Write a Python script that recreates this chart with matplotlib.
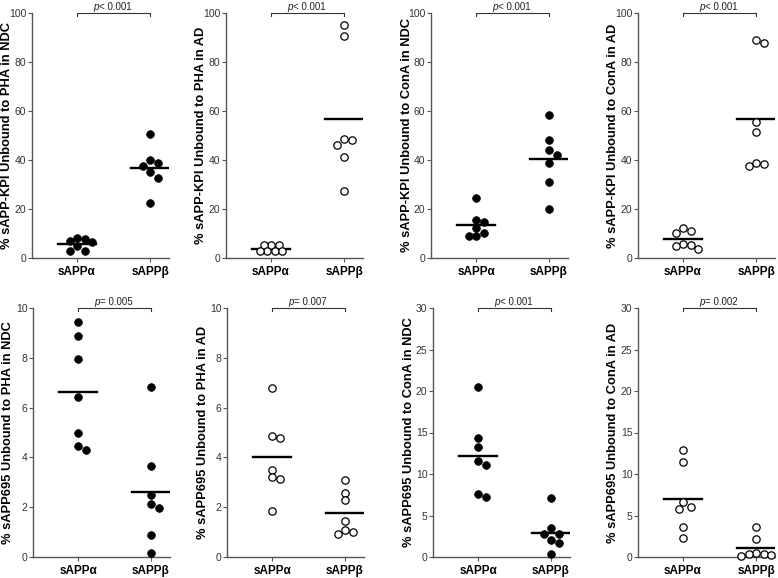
import numpy as np
import matplotlib
matplotlib.use("Agg")
import matplotlib.pyplot as plt

plt.rcParams['font.family'] = ['Liberation Sans', 'DejaVu Sans']

groups = ['sAPPα', 'sAPPβ']

# top row: sAPP-KPI (% unbound)
kpi_pha_ndc_a = [8.0, 7.6, 7.0, 6.7, 5.0, 2.8, 2.8]
kpi_pha_ndc_b = [50.8, 40.0, 38.7, 37.7, 35.0, 32.7, 22.4]
kpi_pha_ad_a = [5.3, 5.3, 5.3, 2.7, 2.7, 2.7, 2.7]
kpi_pha_ad_b = [95.3, 90.5, 48.7, 48.2, 46.2, 41.2, 27.2]
kpi_cona_ndc_a = [24.5, 15.4, 14.7, 12.2, 10.2, 9.0, 9.0]
kpi_cona_ndc_b = [58.3, 48.0, 44.2, 42.0, 38.6, 31.2, 20.1]
kpi_cona_ad_a = [12.2, 11.1, 10.2, 5.7, 5.4, 4.7, 3.7]
kpi_cona_ad_b = [88.9, 87.6, 55.5, 51.6, 38.5, 37.4, 38.8]

# bottom row: sAPP695 (% unbound)
s695_pha_ndc_a = [9.44, 8.87, 7.97, 6.41, 4.96, 4.44, 4.29]
s695_pha_ndc_b = [6.84, 3.67, 2.51, 2.11, 1.97, 0.88, 0.17]
s695_pha_ad_a = [6.77, 4.84, 4.76, 3.51, 3.20, 3.15, 1.84]
s695_pha_ad_b = [3.08, 2.59, 2.29, 1.45, 1.08, 1.00, 0.93]
s695_cona_ndc_a = [20.52, 14.28, 13.24, 11.56, 11.04, 7.60, 7.28]
s695_cona_ndc_b = [7.08, 3.44, 2.72, 2.72, 2.00, 1.72, 0.32]
s695_cona_ad_a = [12.92, 11.40, 6.64, 6.00, 5.84, 3.64, 2.32]
s695_cona_ad_b = [3.64, 2.12, 0.52, 0.40, 0.40, 0.20, 0.12]

# (ylabel, group a, group b, ymax, tick step, p sign, p value, filled markers)
panels = [
    ('% sAPP-KPI Unbound to PHA in NDC', kpi_pha_ndc_a, kpi_pha_ndc_b, 100, 20, '<', '0.001', True),
    ('% sAPP-KPI Unbound to PHA in AD', kpi_pha_ad_a, kpi_pha_ad_b, 100, 20, '<', '0.001', False),
    ('% sAPP-KPI Unbound to ConA in NDC', kpi_cona_ndc_a, kpi_cona_ndc_b, 100, 20, '<', '0.001', True),
    ('% sAPP-KPI Unbound to ConA in AD', kpi_cona_ad_a, kpi_cona_ad_b, 100, 20, '<', '0.001', False),
    ('% sAPP695 Unbound to PHA in NDC', s695_pha_ndc_a, s695_pha_ndc_b, 10, 2, '=', '0.005', True),
    ('% sAPP695 Unbound to PHA in AD', s695_pha_ad_a, s695_pha_ad_b, 10, 2, '=', '0.007', False),
    ('% sAPP695 Unbound to ConA in NDC', s695_cona_ndc_a, s695_cona_ndc_b, 30, 5, '<', '0.001', True),
    ('% sAPP695 Unbound to ConA in AD', s695_cona_ad_a, s695_cona_ad_b, 30, 5, '=', '0.002', False),
]

W, H = 778, 578
lefts = [[32, 226, 431, 638], [33, 227, 433, 638]]
tops = [13, 308]
heights = [245, 249]
ax_w = 137
cat_px = 73.0
x0 = -45 / cat_px
x1 = (ax_w - 45) / cat_px


def swarm(vals, ymax, hpx, d=7.5):
    """simple beeswarm offsets (in category units)"""
    ypx = np.asarray(vals) * hpx / ymax
    order = np.argsort(-ypx)
    placed = []
    offs = np.zeros(len(vals))
    cands = [0.0]
    for k in range(1, 12):
        cands += [k * d / 2, -k * d / 2]
    for i in order:
        for c in cands:
            ok = all((c - px) ** 2 + (ypx[i] - py) ** 2 >= (d * 0.98) ** 2 for px, py in placed)
            if ok:
                break
        placed.append((c, ypx[i]))
        offs[i] = c / cat_px
    return offs


fig = plt.figure(figsize=(W / 100, H / 100), dpi=100)

for n, (ylab, va, vb, ymax, step, sign, pval, filled) in enumerate(panels):
    r, c = divmod(n, 4)
    hpx = heights[r]
    ax = fig.add_axes([lefts[r][c] / W, 1 - (tops[r] + hpx) / H, ax_w / W, hpx / H])
    for k, vals in enumerate([va, vb]):
        xs = k + swarm(vals, ymax, hpx)
        if filled:
            ax.scatter(xs, vals, s=30, c='black', edgecolors='black', linewidths=0.6, zorder=3, clip_on=False)
        else:
            ax.scatter(xs, vals, s=28, facecolors='white', edgecolors='black', linewidths=0.9, zorder=3, clip_on=False)
        m = np.mean(vals)
        ax.plot([k - 0.26, k + 0.26], [m, m], color='black', lw=1.7, zorder=2)

    ax.set_xlim(x0, x1)
    ax.set_ylim(0, ymax)
    ax.set_yticks(np.arange(0, ymax + step / 2, step))
    ax.set_xticks([0, 1])
    ax.set_xticklabels(groups, fontsize=8.5, fontweight='bold')
    ax.tick_params(axis='y', length=3, width=0.8, color='#555555', labelsize=7.5, labelcolor='#333333', pad=1)
    ax.tick_params(axis='x', length=3, width=0.8, color='#555555', pad=3)
    for s in ['top', 'right']:
        ax.spines[s].set_visible(False)
    for s in ['left', 'bottom']:
        ax.spines[s].set_color('#555555')
        ax.spines[s].set_linewidth(1.0)

    ax.set_ylabel(ylab, fontsize=9.3, fontweight='bold')
    ax.yaxis.set_label_coords(-18.5 / ax_w, 0.5)

    # significance bracket
    yb = ymax
    dy = ymax * 0.014
    ax.plot([0, 0, 1, 1], [yb - dy, yb, yb, yb - dy], color='#333333', lw=0.8, clip_on=False)
    ax.annotate('p', (0.5, yb), xytext=(-14.5, 2), textcoords='offset points', ha='left',
                va='baseline', fontsize=7, style='italic', color='#222222')
    ax.annotate(sign + ' ' + pval, (0.5, yb), xytext=(-10.5, 2), textcoords='offset points',
                ha='left', va='baseline', fontsize=7, color='#222222')

fig.savefig('out.png', dpi=100)
